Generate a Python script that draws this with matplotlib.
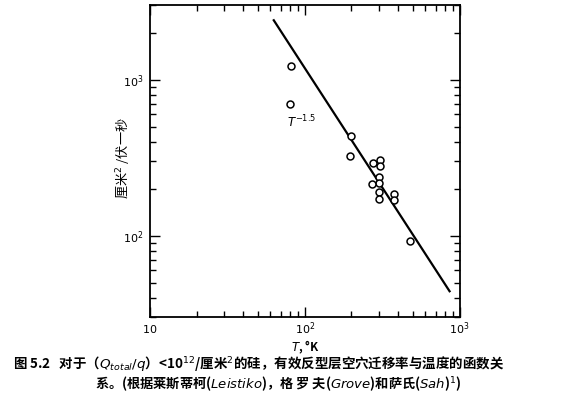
import numpy as np
import matplotlib.pyplot as plt
from matplotlib.ticker import LogLocator, NullFormatter

plt.rcParams['font.family'] = ['Noto Sans CJK SC', 'DejaVu Sans']
plt.rcParams['mathtext.fontset'] = 'dejavusans'

# measured points: temperature (K) and hole mobility (cm^2/V-s)
temp_k = [81, 80, 199, 195, 276, 305, 305, 303, 303, 303, 303, 272, 378, 378, 481]
mobility = [1220, 698, 437, 326, 290, 304, 279, 236, 216, 191, 171, 213, 185, 169, 93]

# T^-1.5 fit line end points
fit_t = [63, 860]
fit_mu = [2400, 44]

fig = plt.figure(figsize=(5.79, 3.96), dpi=100)
ax = fig.add_axes([0.259, 0.199, 0.535, 0.788])

ax.plot(fit_t, fit_mu, color='black', linewidth=1.6)
ax.plot(temp_k, mobility, linestyle='none', marker='o', markersize=5,
        markerfacecolor='white', markeredgecolor='black', markeredgewidth=1.1)

ax.set_xscale('log')
ax.set_yscale('log')
ax.set_xlim(10, 1000)
ax.set_ylim(30, 3000)

ax.xaxis.set_minor_locator(LogLocator(base=10, subs=np.arange(2, 10)))
ax.yaxis.set_minor_locator(LogLocator(base=10, subs=np.arange(2, 10)))
ax.xaxis.set_minor_formatter(NullFormatter())
ax.yaxis.set_minor_formatter(NullFormatter())
ax.set_xticks([10, 100, 1000])
ax.set_xticklabels(['$10$', '$10^2$', '$10^3$'])
ax.set_yticks([100, 1000])
ax.set_yticklabels(['$10^2$', '$10^3$'])

ax.tick_params(which='both', direction='in', top=True, right=True,
               labelsize=8, color='black', width=1)
ax.tick_params(which='major', length=7, pad=5)
ax.tick_params(which='minor', length=4.5)
ax.tick_params(axis='x', which='major', pad=11.5)
for lbl in ax.get_xticklabels():
    lbl.set_va('baseline')
for s in ax.spines.values():
    s.set_linewidth(1.3)

ax.text(95, 537, '$T^{-1.5}$', fontsize=8.5, ha='center', va='center')

ax.set_ylabel('厘米$^2$ /伏一秒', fontsize=9.5, va='center')
ax.yaxis.set_label_coords(-0.085, 0.51)
ax.set_xlabel('$T$, °K', fontsize=8.5, fontweight='bold')
ax.xaxis.set_label_coords(0.5, -0.068)

fig.text(0.022, 0.081,
         '图 5.2   对于（$Q_{total}/q$）<10$^{12}$/厘米$^2$的硅，有效反型层空穴迁移率与温度的函数关',
         fontsize=9.7, fontweight='bold', ha='left', va='center')
fig.text(0.164, 0.030,
         '系。(根据莱斯蒂柯($Leistiko$)，格 罗 夫($Grove$)和萨氏($Sah$)$^1$)',
         fontsize=9.5, fontweight='bold', ha='left', va='center')

fig.savefig('out.png', dpi=100)
